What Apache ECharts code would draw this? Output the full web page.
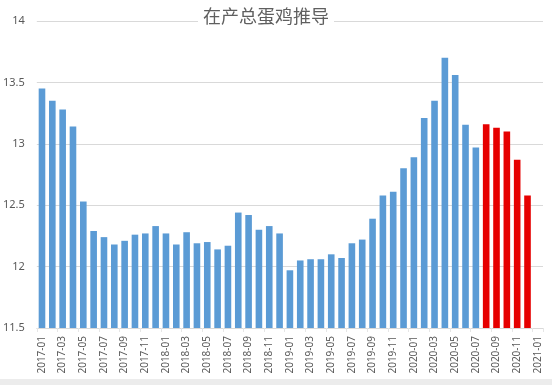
<!DOCTYPE html>
<html>
<head>
<meta charset="utf-8">
<script src="https://cdn.jsdelivr.net/npm/echarts@6/dist/echarts.min.js"></script>
<style>
html,body{margin:0;padding:0;background:#fff;}
#c{width:552px;height:385px;}
</style>
</head>
<body>
<div id="c"></div>
<script>
var titleText = '在产总蛋鸡推导';
var categories = [
 '2017-01','2017-02','2017-03','2017-04','2017-05','2017-06','2017-07','2017-08','2017-09','2017-10','2017-11','2017-12',
 '2018-01','2018-02','2018-03','2018-04','2018-05','2018-06','2018-07','2018-08','2018-09','2018-10','2018-11','2018-12',
 '2019-01','2019-02','2019-03','2019-04','2019-05','2019-06','2019-07','2019-08','2019-09','2019-10','2019-11','2019-12',
 '2020-01','2020-02','2020-03','2020-04','2020-05','2020-06','2020-07','2020-08','2020-09','2020-10','2020-11','2020-12',
 '2021-01'
];
var values = [
 13.45,13.35,13.28,13.14,12.53,12.29,12.24,12.18,12.21,12.26,12.27,12.33,
 12.27,12.18,12.28,12.19,12.20,12.14,12.17,12.44,12.42,12.30,12.33,12.27,
 11.97,12.05,12.06,12.06,12.10,12.07,12.19,12.22,12.39,12.58,12.61,12.80,
 12.89,13.21,13.35,13.70,13.56,13.155,12.97,13.16,13.13,13.10,12.87,12.58
];
var forecastStart = 43; // index of 2020-08, first red (projected) bar
var yTicks = {min: 11.5, max: 14, interval: 0.5};

var chart = echarts.init(document.getElementById('c'), null, {renderer: 'canvas'});
chart.setOption({
  animation: false,
  backgroundColor: '#fff',
  title: {
    text: titleText,
    left: 261, top: 6, textAlign: 'center',
    backgroundColor: '#fff',
    padding: [1, 5],
    textStyle: {fontFamily: 'Noto Sans CJK SC', fontSize: 18, fontWeight: 'normal', color: '#5f5f5f'}
  },
  grid: {left: 34, right: 9, top: 21, bottom: 57},
  xAxis: {
    type: 'category',
    data: categories,
    axisLine: {lineStyle: {color: '#d9d9d9'}},
    axisTick: {show: true, alignWithLabel: false, length: 4, lineStyle: {color: '#e6e6e6'}},
    axisLabel: {interval: 1, rotate: 90, margin: 8, fontSize: 10, color: '#595959', fontFamily: 'Noto Sans'}
  },
  yAxis: {
    type: 'value',
    min: yTicks.min, max: yTicks.max, interval: yTicks.interval,
    axisLine: {show: false}, axisTick: {show: false},
    splitLine: {lineStyle: {color: '#d9d9d9'}},
    axisLabel: {margin: 12, fontSize: 11, color: '#595959', fontFamily: 'Noto Sans'}
  },
  series: [{
    type: 'bar',
    data: values,
    barCategoryGap: '36%',
    itemStyle: {
      color: function (p) { return p.dataIndex >= forecastStart ? '#E60000' : '#5B9BD5'; }
    }
  }],
  graphic: [
    {type: 'rect', left: 0, top: 379, shape: {width: 552, height: 6}, style: {fill: '#ececec'}, z: 10}
  ]
});
</script>
</body>
</html>
